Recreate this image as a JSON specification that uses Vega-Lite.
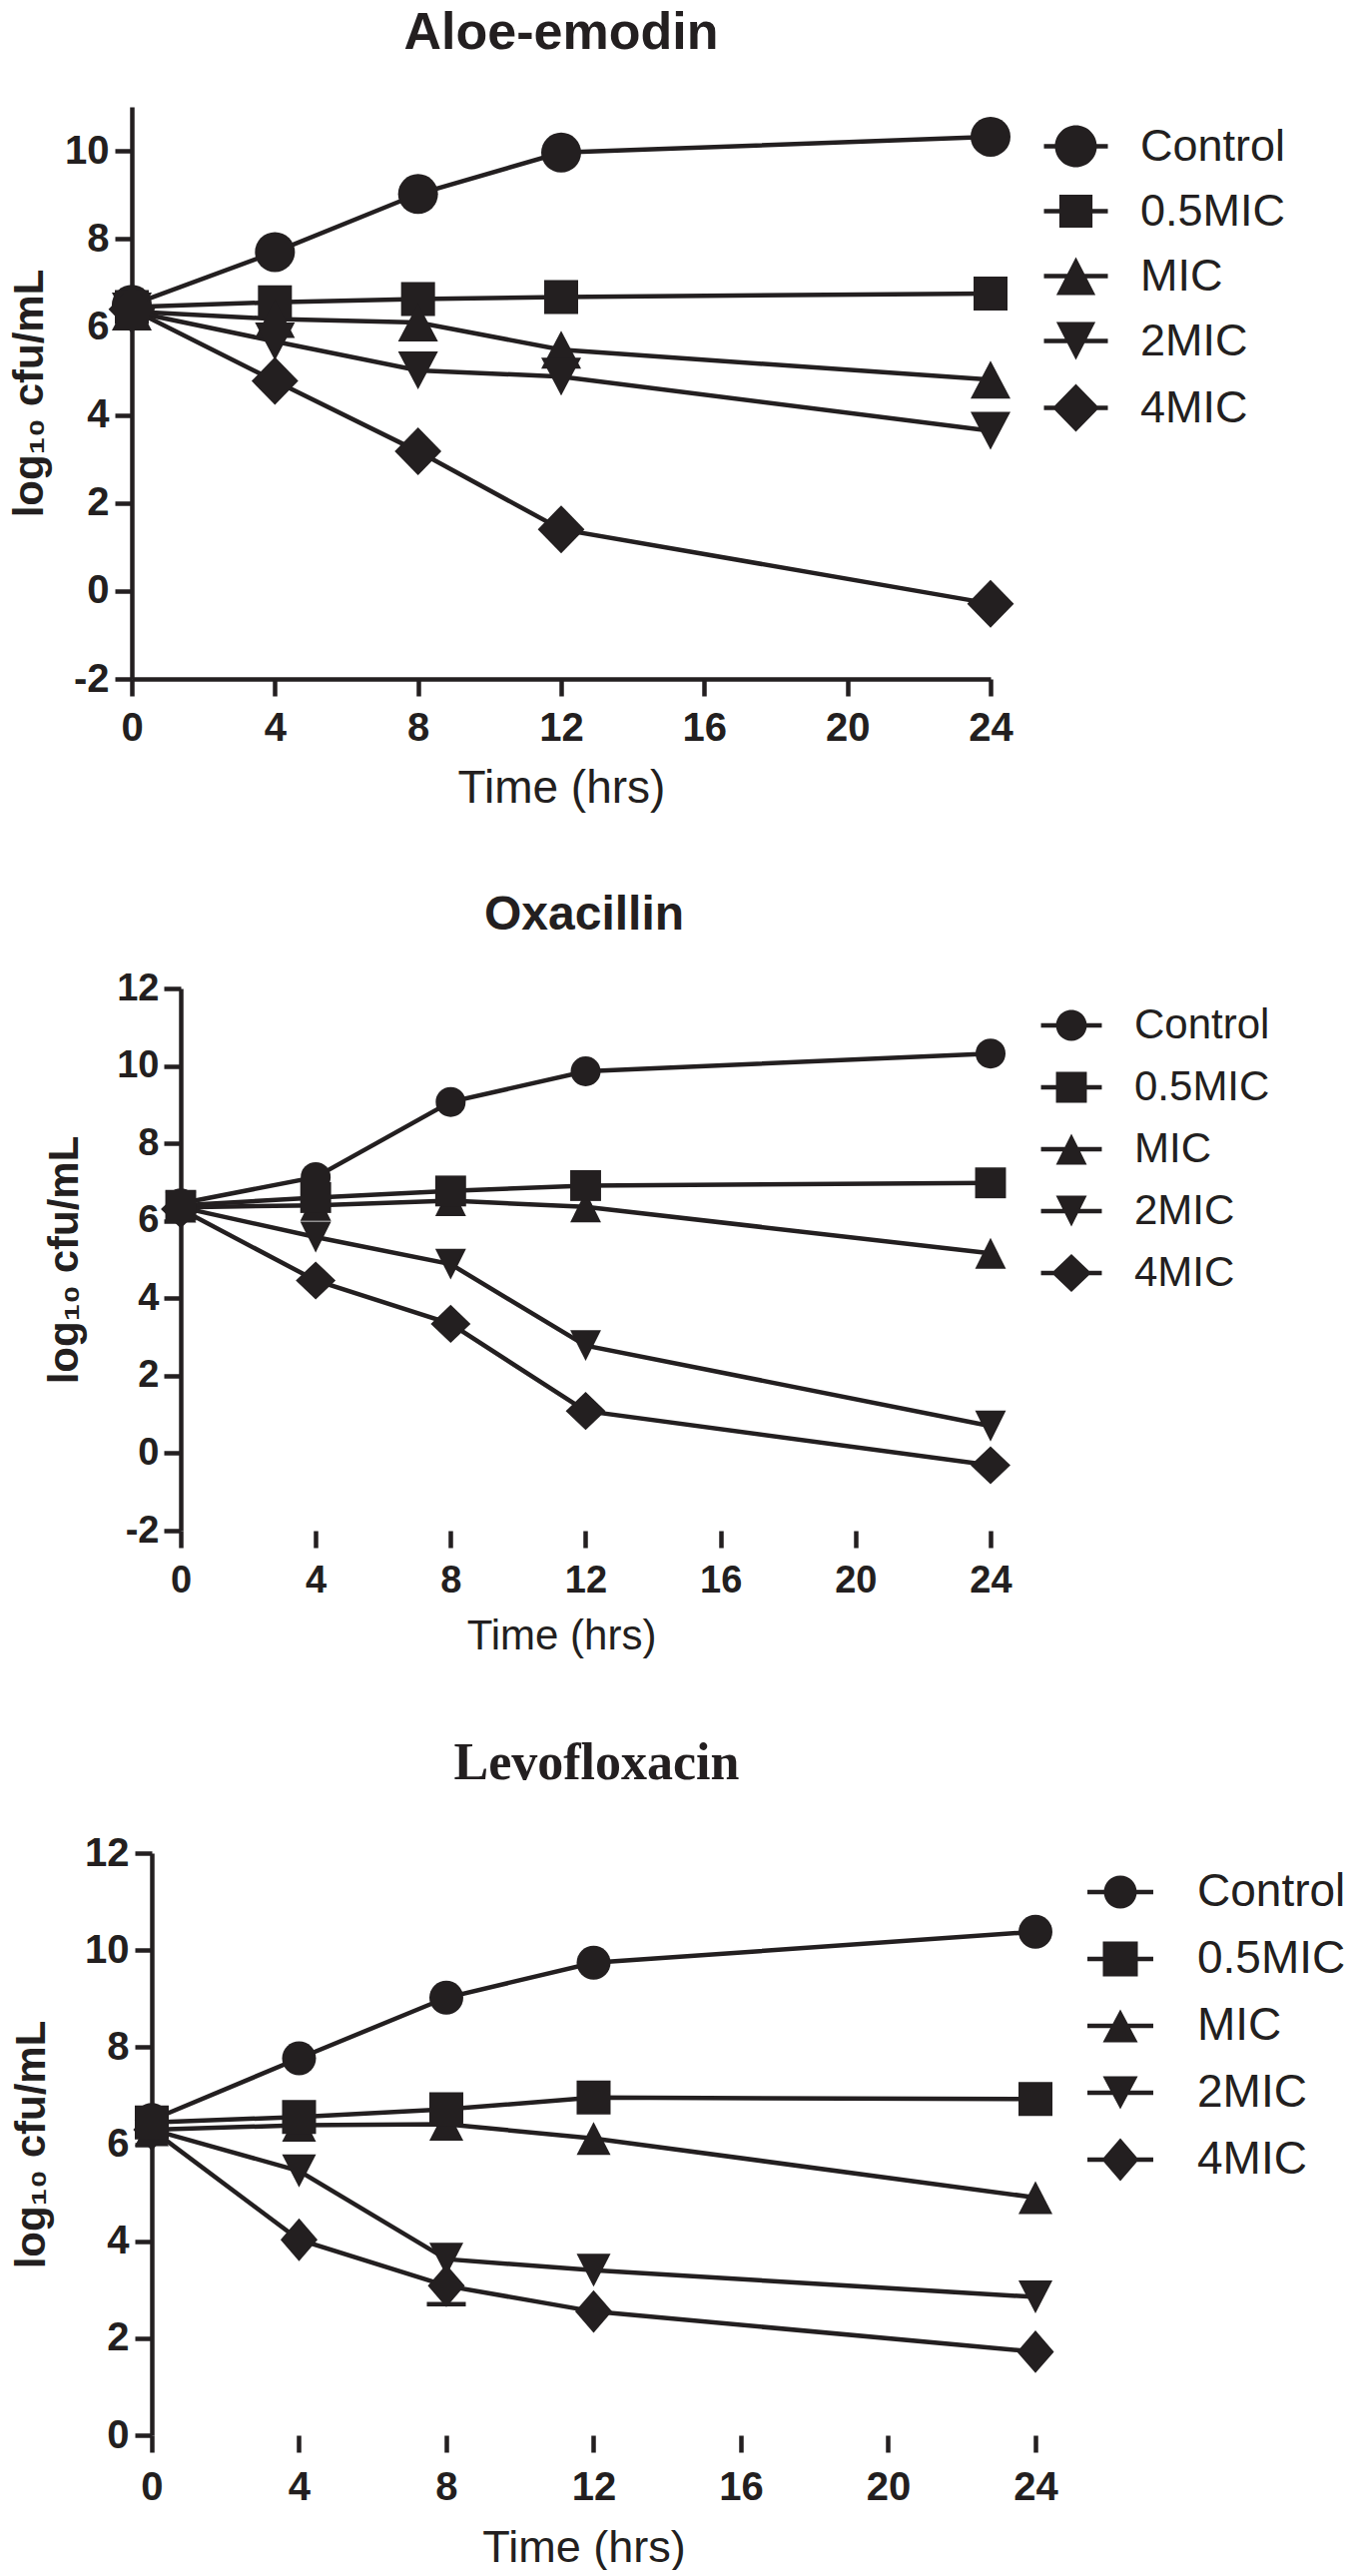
{
  "$schema": "https://vega.github.io/schema/vega-lite/v6.json",
  "background": "white",
  "padding": {"left": 8, "top": 7, "right": 0, "bottom": 0},
  "spacing": 81,
  "datasets": {
    "aloe": [
      {"t": 0, "series": "Control", "v": 6.5}, {"t": 4, "series": "Control", "v": 7.7}, {"t": 8, "series": "Control", "v": 9.02}, {"t": 12, "series": "Control", "v": 9.96}, {"t": 24, "series": "Control", "v": 10.32},
      {"t": 0, "series": "0.5MIC", "v": 6.45}, {"t": 4, "series": "0.5MIC", "v": 6.56}, {"t": 8, "series": "0.5MIC", "v": 6.63}, {"t": 12, "series": "0.5MIC", "v": 6.68}, {"t": 24, "series": "0.5MIC", "v": 6.76},
      {"t": 0, "series": "MIC", "v": 6.35}, {"t": 4, "series": "MIC", "v": 6.18}, {"t": 8, "series": "MIC", "v": 6.1}, {"t": 12, "series": "MIC", "v": 5.48}, {"t": 24, "series": "MIC", "v": 4.8},
      {"t": 0, "series": "2MIC", "v": 6.35}, {"t": 4, "series": "2MIC", "v": 5.67}, {"t": 8, "series": "2MIC", "v": 5.01}, {"t": 12, "series": "2MIC", "v": 4.87}, {"t": 24, "series": "2MIC", "v": 3.64},
      {"t": 0, "series": "4MIC", "v": 6.4}, {"t": 4, "series": "4MIC", "v": 4.77}, {"t": 8, "series": "4MIC", "v": 3.17}, {"t": 12, "series": "4MIC", "v": 1.4}, {"t": 24, "series": "4MIC", "v": -0.29}
    ],
    "oxa": [
      {"t": 0, "series": "Control", "v": 6.45}, {"t": 4, "series": "Control", "v": 7.13}, {"t": 8, "series": "Control", "v": 9.07}, {"t": 12, "series": "Control", "v": 9.86}, {"t": 24, "series": "Control", "v": 10.32},
      {"t": 0, "series": "MIC", "v": 6.35}, {"t": 4, "series": "MIC", "v": 6.4}, {"t": 8, "series": "MIC", "v": 6.52}, {"t": 12, "series": "MIC", "v": 6.36}, {"t": 24, "series": "MIC", "v": 5.16},
      {"t": 0, "series": "2MIC", "v": 6.35}, {"t": 4, "series": "2MIC", "v": 5.58}, {"t": 8, "series": "2MIC", "v": 4.88}, {"t": 12, "series": "2MIC", "v": 2.78}, {"t": 24, "series": "2MIC", "v": 0.7},
      {"t": 0, "series": "4MIC", "v": 6.3}, {"t": 4, "series": "4MIC", "v": 4.46}, {"t": 8, "series": "4MIC", "v": 3.34}, {"t": 12, "series": "4MIC", "v": 1.09}, {"t": 24, "series": "4MIC", "v": -0.31},
      {"t": 0, "series": "0.5MIC", "v": 6.4}, {"t": 4, "series": "0.5MIC", "v": 6.6}, {"t": 8, "series": "0.5MIC", "v": 6.77}, {"t": 12, "series": "0.5MIC", "v": 6.91}, {"t": 24, "series": "0.5MIC", "v": 6.98}
    ],
    "levo": [
      {"t": 0, "series": "Control", "v": 6.5}, {"t": 4, "series": "Control", "v": 7.77}, {"t": 8, "series": "Control", "v": 9.02}, {"t": 12, "series": "Control", "v": 9.74}, {"t": 24, "series": "Control", "v": 10.38},
      {"t": 0, "series": "MIC", "v": 6.3}, {"t": 4, "series": "MIC", "v": 6.39}, {"t": 8, "series": "MIC", "v": 6.41}, {"t": 12, "series": "MIC", "v": 6.12}, {"t": 24, "series": "MIC", "v": 4.9},
      {"t": 0, "series": "2MIC", "v": 6.3}, {"t": 4, "series": "2MIC", "v": 5.45}, {"t": 8, "series": "2MIC", "v": 3.63}, {"t": 12, "series": "2MIC", "v": 3.4}, {"t": 24, "series": "2MIC", "v": 2.85},
      {"t": 0, "series": "4MIC", "v": 6.3}, {"t": 4, "series": "4MIC", "v": 4.03}, {"t": 8, "series": "4MIC", "v": 3.08}, {"t": 12, "series": "4MIC", "v": 2.55}, {"t": 24, "series": "4MIC", "v": 1.72},
      {"t": 0, "series": "0.5MIC", "v": 6.45}, {"t": 4, "series": "0.5MIC", "v": 6.56}, {"t": 8, "series": "0.5MIC", "v": 6.72}, {"t": 12, "series": "0.5MIC", "v": 6.96}, {"t": 24, "series": "0.5MIC", "v": 6.93}
    ],
    "levoErr": [
      {"t": 8, "series": "4MIC", "lo": 2.7, "hi": 3.08}
    ],
    "xAxisLine": [
      {"from": 0, "to": 24}
    ]
  },
  "config": {
    "view": {"stroke": null},
    "font": "Liberation Sans",
    "axis": {
      "grid": false,
      "domainColor": "#231f20", "domainWidth": 4.5,
      "tickColor": "#231f20", "tickWidth": 4.5, "tickSize": 17,
      "labelFont": "Liberation Sans", "labelFontWeight": "bold", "labelColor": "#231f20",
      "labelFlush": false, "labelOverlap": false,
      "titleFont": "Liberation Sans", "titleColor": "#231f20"
    },
    "legend": {
      "labelFont": "Liberation Sans", "labelColor": "#231f20", "labelFontWeight": "normal", "labelLimit": 400
    },
    "title": {"frame": "group", "anchor": "middle", "baseline": "alphabetic", "color": "#231f20", "fontWeight": "bold"}
  },
  "vconcat": [
    {
      "title": {"text": "Aloe-emodin", "font": "Liberation Sans", "fontSize": 52, "offset": 47},
      "width": 860, "height": 573,
      "data": {"name": "aloe"},
      "encoding": {
        "x": {"field": "t", "type": "quantitative", "scale": {"domain": [0, 24], "nice": false, "zero": false},
          "axis": {"values": [0, 4, 8, 12, 16, 20, 24], "title": "Time (hrs)", "labelFontSize": 40, "labelPadding": 12, "titleFontSize": 46, "titleFontWeight": "normal", "titlePadding": 18}},
        "y": {"field": "v", "type": "quantitative", "scale": {"domain": [-2, 11], "nice": false, "zero": false},
          "axis": {"values": [-2, 0, 2, 4, 6, 8, 10], "labelExpr": "'' + datum.value", "title": "log₁₀ cfu/mL", "labelFontSize": 40, "labelPadding": 6, "titleFontSize": 42, "titleFontWeight": "bold", "titlePadding": 13}}
      },
      "layer": [
        {"mark": {"type": "line", "color": "#231f20", "strokeWidth": 4.5}, "encoding": {"detail": {"field": "series", "type": "nominal"}}},
        {"mark": {"type": "point", "filled": true, "color": "#231f20", "opacity": 1, "size": 1600},
          "encoding": {"shape": {"field": "series", "type": "nominal",
            "scale": {"domain": ["Control", "0.5MIC", "MIC", "2MIC", "4MIC"],
              "range": ["circle", "M-0.85,-0.85H0.85V0.85H-0.85Z", "M0,-0.95L1,0.95L-1,0.95Z", "M0,0.95L-1,-0.95L1,-0.95Z", "M0,-1.2L1.17,0L0,1.2L-1.17,0Z"]},
            "legend": null}}},
        {"mark": {"type": "point", "filled": true, "color": "#231f20", "opacity": 0, "size": 1600},
          "encoding": {"shape": {"field": "series", "type": "nominal",
            "scale": {"domain": ["Control", "0.5MIC", "MIC", "2MIC", "4MIC"],
              "range": [
                "M-1.6,-0.11H1.6V0.11H-1.6ZM1.05,0A1.05,1.05,0,1,1,-1.05,0A1.05,1.05,0,1,1,1.05,0Z",
                "M-1.6,-0.11H1.6V0.11H-1.6ZM-0.83,-0.83H0.83V0.83H-0.83Z",
                "M-1.6,-0.11H1.6V0.11H-1.6ZM0,-0.95L0.98,0.95L-0.98,0.95Z",
                "M-1.6,-0.11H1.6V0.11H-1.6ZM0,0.95L-0.98,-0.95L0.98,-0.95Z",
                "M-1.6,-0.11H1.6V0.11H-1.6ZM0,-1.2L1.17,0L0,1.2L-1.17,0Z"]},
            "legend": {"title": null, "orient": "right", "offset": 37, "padding": 17, "labelFontSize": 45, "labelOffset": 42, "rowPadding": 19,
              "symbolSize": 1600, "symbolStrokeWidth": 0, "symbolFillColor": "#231f20", "symbolOpacity": 1}}}}
      ],
      "resolve": {"scale": {"shape": "independent"}, "legend": {"shape": "independent"}}
    },
    {
      "title": {"text": "Oxacillin", "font": "Liberation Sans", "fontSize": 48, "offset": 30, "dx": 23},
      "width": 860, "height": 543,
      "data": {"name": "oxa"},
      "encoding": {
        "x": {"field": "t", "type": "quantitative", "scale": {"domain": [-1.45, 24], "nice": false, "zero": false},
          "axis": {"values": [0, 4, 8, 12, 16, 20, 24], "domain": false, "title": "Time (hrs)", "labelFontSize": 38, "labelPadding": 14, "titleFontSize": 42, "titleFontWeight": "normal", "titlePadding": 16}},
        "y": {"field": "v", "type": "quantitative", "scale": {"domain": [-2, 12], "nice": false, "zero": false},
          "axis": {"values": [-2, 0, 2, 4, 6, 8, 10, 12], "offset": -49, "labelExpr": "'' + datum.value", "title": "log₁₀ cfu/mL", "labelFontSize": 38, "labelPadding": 5, "titleFontSize": 42, "titleFontWeight": "bold", "titlePadding": 30}}
      },
      "layer": [
        {"data": {"name": "xAxisLine"}, "mark": {"type": "rule", "color": "#231f20", "strokeWidth": 4.5},
          "encoding": {"x": {"field": "from", "type": "quantitative"}, "x2": {"field": "to"}, "y": {"datum": -2, "type": "quantitative"}}},
        {"mark": {"type": "line", "color": "#231f20", "strokeWidth": 4.5}, "encoding": {"detail": {"field": "series", "type": "nominal"}}},
        {"mark": {"type": "point", "filled": true, "color": "#231f20", "opacity": 1, "size": 900},
          "encoding": {"shape": {"field": "series", "type": "nominal",
            "scale": {"domain": ["Control", "0.5MIC", "MIC", "2MIC", "4MIC"],
              "range": ["circle", "M-1.03,-1.03H1.03V1.03H-1.03Z", "M0,-1.03L1.03,1.03L-1.03,1.03Z", "M0,1.03L-1.03,-1.03L1.03,-1.03Z", "M0,-1.27L1.33,0L0,1.27L-1.33,0Z"]},
            "legend": null}}},
        {"mark": {"type": "point", "filled": true, "color": "#231f20", "opacity": 0, "size": 900},
          "encoding": {"shape": {"field": "series", "type": "nominal",
            "scale": {"domain": ["Control", "0.5MIC", "MIC", "2MIC", "4MIC"],
              "range": [
                "M-2.03,-0.15H2.03V0.15H-2.03ZM1.03,0A1.03,1.03,0,1,1,-1.03,0A1.03,1.03,0,1,1,1.03,0Z",
                "M-2.03,-0.15H2.03V0.15H-2.03ZM-1.03,-1.03H1.03V1.03H-1.03Z",
                "M-2.03,-0.15H2.03V0.15H-2.03ZM0,-1.03L1.03,1.03L-1.03,1.03Z",
                "M-2.03,-0.15H2.03V0.15H-2.03ZM0,1.03L-1.03,-1.03L1.03,-1.03Z",
                "M-2.03,-0.15H2.03V0.15H-2.03ZM0,-1.27L1.33,0L0,1.27L-1.33,0Z"]},
            "legend": {"title": null, "orient": "right", "offset": 35, "padding": 16, "labelFontSize": 42, "labelOffset": 42, "rowPadding": 20,
              "symbolSize": 900, "symbolStrokeWidth": 0, "symbolFillColor": "#231f20", "symbolOpacity": 1}}}}
      ],
      "resolve": {"scale": {"shape": "independent"}, "legend": {"shape": "independent"}}
    },
    {
      "title": {"text": "Levofloxacin", "font": "Liberation Serif", "fontSize": 52, "offset": 43, "dx": 13},
      "width": 905, "height": 583,
      "encoding": {
        "x": {"field": "t", "type": "quantitative", "scale": {"domain": [-0.542, 24], "nice": false, "zero": false},
          "axis": {"values": [0, 4, 8, 12, 16, 20, 24], "domain": false, "title": "Time (hrs)", "labelFontSize": 40, "labelPadding": 15, "titleFontSize": 45, "titleFontWeight": "normal", "titlePadding": 18}},
        "y": {"field": "v", "type": "quantitative", "scale": {"domain": [0, 12], "nice": false, "zero": false},
          "axis": {"values": [0, 2, 4, 6, 8, 10, 12], "offset": -20, "labelExpr": "'' + datum.value", "title": "log₁₀ cfu/mL", "labelFontSize": 40, "labelPadding": 6, "titleFontSize": 42, "titleFontWeight": "bold", "titlePadding": 31}}
      },
      "layer": [
        {"data": {"name": "xAxisLine"}, "mark": {"type": "rule", "color": "#231f20", "strokeWidth": 4.5},
          "encoding": {"x": {"field": "from", "type": "quantitative"}, "x2": {"field": "to"}, "y": {"datum": 0, "type": "quantitative"}}},
        {"data": {"name": "levo"}, "mark": {"type": "line", "color": "#231f20", "strokeWidth": 4.5}, "encoding": {"detail": {"field": "series", "type": "nominal"}}},
        {"data": {"name": "levoErr"}, "mark": {"type": "rule", "color": "#231f20", "strokeWidth": 4.5}, "encoding": {"y": {"field": "lo", "type": "quantitative"}, "y2": {"field": "hi"}}},
        {"data": {"name": "levoErr"}, "mark": {"type": "tick", "orient": "horizontal", "color": "#231f20", "size": 39, "thickness": 4.5, "opacity": 1}, "encoding": {"y": {"field": "lo", "type": "quantitative"}}},
        {"data": {"name": "levo"}, "mark": {"type": "point", "filled": true, "color": "#231f20", "opacity": 1, "size": 1156},
          "encoding": {"shape": {"field": "series", "type": "nominal",
            "scale": {"domain": ["Control", "0.5MIC", "MIC", "2MIC", "4MIC"],
              "range": ["circle", "M-1,-1H1V1H-1Z", "M0,-0.97L1,0.97L-1,0.97Z", "M0,0.97L-1,-0.97L1,-0.97Z", "M0,-1.26L1.09,0L0,1.26L-1.09,0Z"]},
            "legend": null}}},
        {"data": {"name": "levo"}, "mark": {"type": "point", "filled": true, "color": "#231f20", "opacity": 0, "size": 1156},
          "encoding": {"shape": {"field": "series", "type": "nominal",
            "scale": {"domain": ["Control", "0.5MIC", "MIC", "2MIC", "4MIC"],
              "range": [
                "M-1.94,-0.13H1.94V0.13H-1.94ZM0.97,0A0.97,0.97,0,1,1,-0.97,0A0.97,0.97,0,1,1,0.97,0Z",
                "M-1.94,-0.13H1.94V0.13H-1.94ZM-1.03,-1.03H1.03V1.03H-1.03Z",
                "M-1.94,-0.13H1.94V0.13H-1.94ZM0,-0.97L1.03,0.97L-1.03,0.97Z",
                "M-1.94,-0.13H1.94V0.13H-1.94ZM0,0.97L-1.03,-0.97L1.03,-0.97Z",
                "M-1.94,-0.13H1.94V0.13H-1.94ZM0,-1.26L1.09,0L0,1.26L-1.09,0Z"]},
            "legend": {"title": null, "orient": "right", "offset": 37, "padding": 16, "labelFontSize": 46, "labelOffset": 54, "rowPadding": 21,
              "symbolSize": 1156, "symbolStrokeWidth": 0, "symbolFillColor": "#231f20", "symbolOpacity": 1}}}}
      ],
      "resolve": {"scale": {"shape": "independent"}, "legend": {"shape": "independent"}}
    }
  ]
}
